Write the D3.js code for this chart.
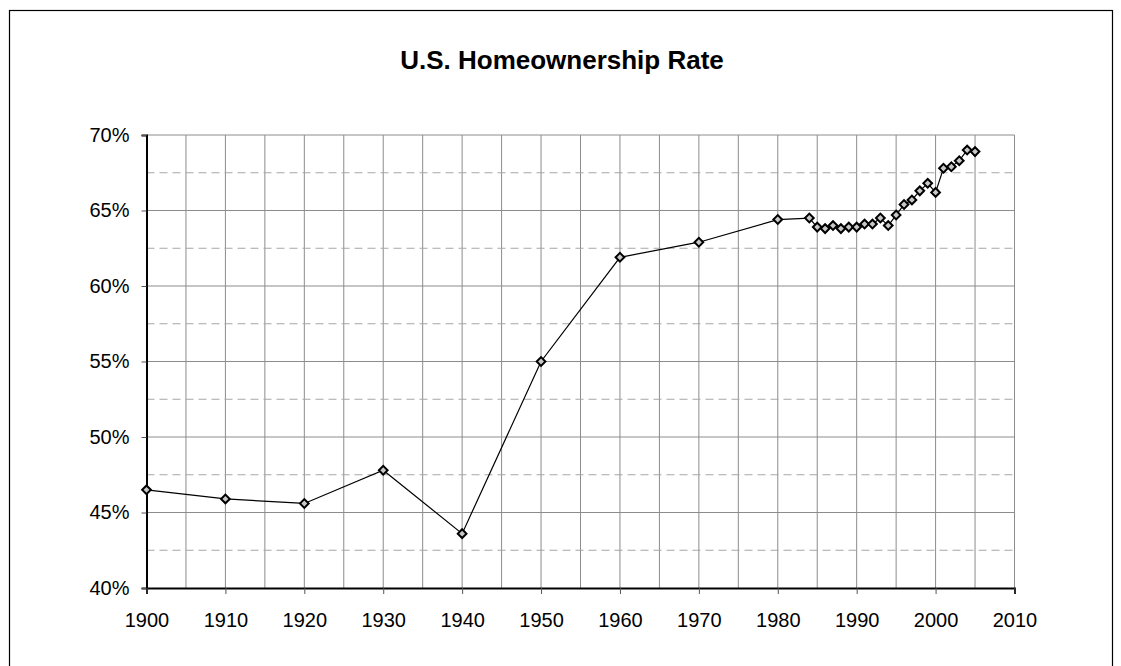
<!DOCTYPE html>
<html>
<head>
<meta charset="utf-8">
<script src="https://cdn.jsdelivr.net/npm/d3@7/dist/d3.min.js"></script>
<style>
  body { margin: 0; background: #fff; }
  svg { display: block; font-family: "Liberation Sans", Arial, sans-serif; }
</style>
</head>
<body>
<svg id="chart" width="1121" height="666"></svg>
<script>
// homeownership rate, percent
const years = [1900, 1910, 1920, 1930, 1940, 1950, 1960, 1970, 1980,
    1984, 1985, 1986, 1987, 1988, 1989, 1990, 1991, 1992, 1993, 1994,
    1995, 1996, 1997, 1998, 1999, 2000, 2001, 2002, 2003, 2004, 2005];
const rates = [46.5, 45.9, 45.6, 47.8, 43.6, 55.0, 61.9, 62.9, 64.4,
    64.5, 63.9, 63.8, 64.0, 63.8, 63.9, 63.9, 64.1, 64.1, 64.5, 64.0,
    64.7, 65.4, 65.7, 66.3, 66.8, 66.2, 67.8, 67.9, 68.3, 69.0, 68.9];
const xTicks = [1900, 1910, 1920, 1930, 1940, 1950, 1960, 1970, 1980, 1990, 2000, 2010];
const yTicks = [40, 45, 50, 55, 60, 65, 70];
const title = "U.S. Homeownership Rate";

const buildChart = (svgName) => {
    let chart = d3.select(svgName);
    let margin = { left: 146.5, right: 106.5, top: 135, bottom: 78 };
    let width = 1121, height = 666;

    // outer frame
    chart.append("rect")
        .attr("x", 9.5).attr("y", 10.5)
        .attr("width", 1103).attr("height", 670)
        .attr("fill", "none").attr("stroke", "#000").attr("stroke-width", 1.2);

    let x = d3.scaleLinear().domain([1900, 2010])
                .range([margin.left, width - margin.right]);
    let y = d3.scaleLinear().domain([40, 70])
                .range([height - margin.bottom, margin.top]);

    // vertical grid every 5 years
    let vGrid = d3.range(1905, 2011, 5);
    chart.append("g").selectAll("line").data(vGrid).enter().append("line")
        .attr("x1", d => x(d)).attr("x2", d => x(d))
        .attr("y1", y(40)).attr("y2", y(70))
        .attr("stroke", "#8c8c8c").attr("stroke-width", 1);

    // dashed minor horizontals
    let minor = [42.5, 47.5, 52.5, 57.5, 62.5, 67.5];
    chart.append("g").selectAll("line").data(minor).enter().append("line")
        .attr("x1", x(1900)).attr("x2", x(2010))
        .attr("y1", d => y(d)).attr("y2", d => y(d))
        .attr("stroke", "#a6a6a6").attr("stroke-width", 1)
        .attr("stroke-dasharray", "8,5");

    // solid major horizontals
    chart.append("g").selectAll("line").data(yTicks.slice(1)).enter().append("line")
        .attr("x1", x(1900)).attr("x2", x(2010))
        .attr("y1", d => y(d)).attr("y2", d => y(d))
        .attr("stroke", "#8c8c8c").attr("stroke-width", 1);

    // axes
    let yAxis = d3.axisLeft(y).tickValues(yTicks).tickSize(5).tickPadding(12)
                    .tickFormat(d => d + "%");
    let xAxis = d3.axisBottom(x).tickValues(xTicks).tickSize(6).tickPadding(19)
                    .tickFormat(d3.format("d"));
    let gy = chart.append("g").attr("transform", "translate(" + margin.left + ",0)").call(yAxis);
    let gx = chart.append("g").attr("transform", "translate(0," + y(40) + ")").call(xAxis);
    gy.select(".domain").attr("stroke", "#000").attr("stroke-width", 2);
    gx.select(".domain").attr("stroke", "#000").attr("stroke-width", 2);
    gy.selectAll(".tick line").attr("stroke", "#555");
    gx.selectAll(".tick line").attr("stroke", "#555");
    [gx, gy].forEach(g => g.selectAll("text")
        .attr("font-family", "Liberation Sans, Arial, sans-serif")
        .attr("font-size", 20).attr("fill", "#000"));

    // line
    let pts = years.map((yr, i) => ({ year: yr, rate: rates[i] }));
    let line = d3.line().x(d => x(d.year)).y(d => y(d.rate));
    chart.append("path").datum(pts)
        .attr("d", line).attr("fill", "none")
        .attr("stroke", "#000").attr("stroke-width", 1.2);

    // diamond markers
    let diamond = d3.symbol().type(d3.symbolSquare).size(38);
    chart.append("g").selectAll("path").data(pts).enter().append("path")
        .attr("d", diamond)
        .attr("transform", d => "translate(" + x(d.year) + "," + y(d.rate) + ") rotate(45)")
        .attr("fill", "#c8c8c8").attr("stroke", "#000").attr("stroke-width", 2);

    chart.append("text")
        .attr("x", 562).attr("y", 69)
        .attr("text-anchor", "middle")
        .attr("font-size", 26).attr("font-weight", "bold")
        .text(title);
};

buildChart("#chart");
</script>
</body>
</html>
